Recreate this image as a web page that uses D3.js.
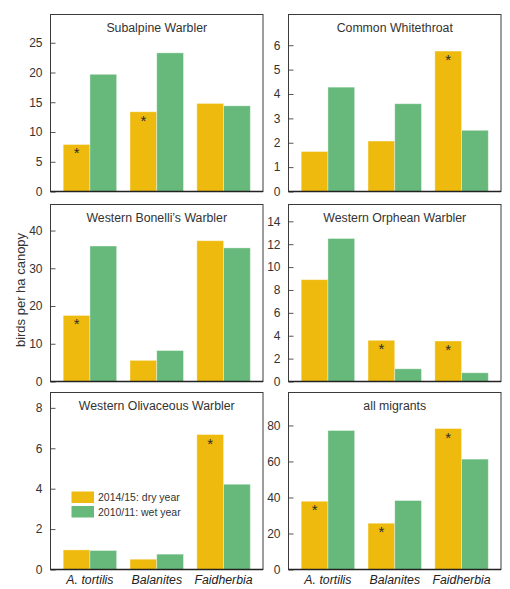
<!DOCTYPE html>
<html>
<head>
<meta charset="utf-8">
<script src="https://cdn.jsdelivr.net/npm/d3@7"></script>
<style>
  html, body { margin: 0; padding: 0; background: #fff; }
  svg { display: block; font-family: "Liberation Sans", Arial, sans-serif; }
</style>
</head>
<body>
<svg id="chart" width="510" height="589"></svg>
<script>
// ---- data ----
const categories = ["A. tortilis", "Balanites", "Faidherbia"];
const species = ["Subalpine Warbler", "Common Whitethroat", "Western Bonelli\u2019s Warbler",
                 "Western Orphean Warbler", "Western Olivaceous Warbler", "all migrants"];
const seriesNames = ["2014/15: dry year", "2010/11: wet year"];
const dryYear = [
  [7.9, 13.4, 14.8],
  [1.64, 2.07, 5.76],
  [17.5, 5.6, 37.3],
  [8.9, 3.6, 3.54],
  [0.97, 0.51, 6.68],
  [37.9, 25.7, 78.3]
];
const wetYear = [
  [19.7, 23.3, 14.4],
  [4.28, 3.6, 2.51],
  [35.9, 8.2, 35.4],
  [12.5, 1.11, 0.76],
  [0.94, 0.76, 4.22],
  [77.2, 38.3, 61.3]
];
// asterisk (significant difference) on dry-year bar
const significant = [
  [1, 1, 0],
  [0, 0, 1],
  [1, 0, 0],
  [0, 1, 1],
  [0, 0, 1],
  [1, 1, 1]
];
const yMax = [29.75, 7.26, 46.9, 15.47, 8.76, 98.3];
const yTicks = [
  [0, 5, 10, 15, 20, 25],
  [0, 1, 2, 3, 4, 5, 6],
  [0, 10, 20, 30, 40],
  [0, 2, 4, 6, 8, 10, 12, 14],
  [0, 2, 4, 6, 8],
  [0, 20, 40, 60, 80]
];
const yLabel = "birds per ha canopy";

// ---- layout ----
const colors = ["#EFBA0E", "#67B97B"];
const colX = [50.5, 288.5];
const rowY = [14.5, 204.5, 392.5];
const pw = 212.5, ph = 177;

const svg = d3.select("#chart");

species.forEach((name, i) => {
  const col = i % 2, row = Math.floor(i / 2);
  const g = svg.append("g").attr("transform", `translate(${colX[col]},${rowY[row]})`);

  const x = d3.scaleBand().domain(categories).range([0, pw]).paddingInner(0.2).paddingOuter(0.19);
  const xs = d3.scaleBand().domain([0, 1]).range([0, x.bandwidth()]);
  const y = d3.scaleLinear().domain([0, yMax[i]]).range([ph, 0]);

  const groups = g.selectAll("g.grp").data(categories).enter().append("g")
    .attr("transform", d => `translate(${x(d)},0)`);

  groups.each(function(cat, k) {
    const vals = [dryYear[i][k], wetYear[i][k]];
    d3.select(this).selectAll("rect").data(vals).enter().append("rect")
      .attr("x", (d, s) => xs(s))
      .attr("y", d => y(d))
      .attr("width", xs.bandwidth())
      .attr("height", d => ph - y(d))
      .attr("fill", (d, s) => colors[s])
      .attr("stroke", "rgba(255,255,255,0.45)")
      .attr("stroke-width", 0.8);
    if (significant[i][k]) {
      d3.select(this).append("text")
        .attr("x", xs(0) + xs.bandwidth() / 2)
        .attr("y", y(vals[0]) + 14)
        .attr("text-anchor", "middle")
        .attr("font-size", 15)
        .attr("fill", "#2a2a2a")
        .text("*");
    }
  });

  // y axis (ticks inside)
  const ya = d3.axisLeft(y).tickValues(yTicks[i]).tickSize(-5).tickPadding(8).tickFormat(d3.format("d"));
  const yg = g.append("g").call(ya);
  yg.select(".domain").remove();
  yg.selectAll(".tick line").attr("stroke", "#555");
  yg.selectAll("text").attr("font-size", 12).attr("fill", "#333").attr("font-family", "Liberation Sans, Arial, sans-serif");

  // frame
  g.append("rect").attr("x", 0).attr("y", 0).attr("width", pw).attr("height", ph)
    .attr("fill", "none").attr("stroke", "#3a3a3a").attr("stroke-width", 1);
  g.append("line").attr("x1", 0).attr("x2", pw).attr("y1", ph).attr("y2", ph)
    .attr("stroke", "#222").attr("stroke-width", 1.4);

  // title
  g.append("text").attr("x", pw / 2).attr("y", 17)
    .attr("text-anchor", "middle").attr("font-size", 12.3).attr("fill", "#333")
    .text(name);

  // x labels (bottom row)
  if (row === 2) {
    g.selectAll("text.xl").data(categories).enter().append("text")
      .attr("x", d => x(d) + x.bandwidth() / 2)
      .attr("y", ph + 14.5)
      .attr("text-anchor", "middle")
      .attr("font-size", 12.3)
      .attr("font-style", "italic")
      .attr("fill", "#222")
      .text(d => d);
  }

  // legend in Western Olivaceous panel
  if (i === 4) {
    const lg = g.append("g").attr("transform", "translate(21,99)");
    seriesNames.forEach((s, j) => {
      lg.append("rect").attr("x", 0).attr("y", j * 14.5).attr("width", 22.5).attr("height", 11.5)
        .attr("fill", colors[j]);
      lg.append("text").attr("x", 26.5).attr("y", j * 14.5 + 9.5)
        .attr("font-size", 10.5).attr("fill", "#333").text(s);
    });
  }
});

// shared y label
svg.append("text")
  .attr("transform", "translate(25,290) rotate(-90)")
  .attr("text-anchor", "middle")
  .attr("font-size", 13)
  .attr("fill", "#333")
  .text(yLabel);
</script>
</body>
</html>
